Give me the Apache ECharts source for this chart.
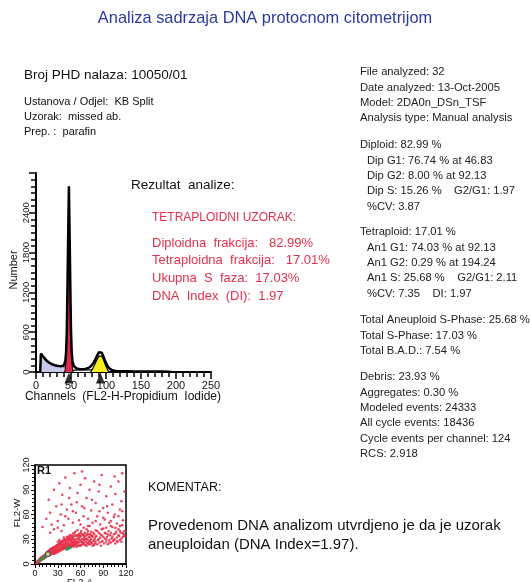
<!DOCTYPE html>
<html>
<head>
<meta charset="utf-8">
<script src="https://cdn.jsdelivr.net/npm/echarts@6/dist/echarts.min.js"></script>
<style>
html,body{margin:0;padding:0;background:#fff;}
#c{width:531px;height:582px;}
</style>
</head>
<body>
<div id="c"></div>
<script>
// ---- DNA histogram (channels vs number) ----
const totalCh = [6,7,8,10,12,15,18,21,24,27,30,33,36,38,40,42,43,44,45,46,47,48,49,50,51,52,54,56,58,60,63,66,70,74,78,82,85,88,90,92,94,96,99,102,105,108,112,116,120,130,140,150,160,170,180,190,194];
const totalN  = [0,280,265,235,205,172,148,128,113,102,95,90,88,90,100,170,300,620,1320,2080,2800,2080,1320,620,300,170,90,62,52,46,42,42,46,56,82,135,195,262,298,312,292,240,160,92,52,32,20,15,12,10,8,8,7,6,6,5,0];
const debrisCh = [6,7,8,10,12,15,18,21,24,27,30,33,36,38,40,42,44,46];
const debrisN  = [0,275,258,228,198,166,142,122,107,96,89,84,80,78,76,72,66,0];
const g1Ch = [41,42,43,44,45,46,47,48,49,50,51,52,53];
const g1N  = [0,60,190,500,1200,1960,2720,1960,1200,500,190,60,0];
const sCh = [46,48,52,56,60,66,72,78,84,90,95,100];
const sN  = [0,18,24,28,30,32,33,33,32,30,18,0];
const g2Ch = [78,82,85,88,90,92,94,96,99,102,104];
const g2N  = [0,70,140,205,240,255,240,195,110,40,0];
const peakMarks = [47,92];
const histYLabels = [0,600,1200,1800,2400];

// ---- FL2-A vs FL2-W dot plot ----
const dotsRed = [
[2,1],[3,2],[4,2],[4,4],[5,3],[6,4],[6,6],[7,5],[8,6],[8,8],[9,7],[10,6],[10,9],[11,8],[12,10],[12,7],[13,9],[14,11],[14,8],[15,10],[15,13],[16,12],[17,10],[17,14],[18,12],[18,16],[19,13],[20,11],[20,15],[21,14],[21,18],[22,12],[22,16],[23,15],[23,19],[24,13],[24,17],[25,15],[25,20],[26,14],[26,18],[27,16],[27,21],[28,15],[28,19],[29,17],[29,23],[30,16],[30,20],[31,18],[31,24],[32,17],[32,21],[33,19],[33,26],[34,18],[34,22],[35,20],[35,27],[36,19],[36,23],[37,21],[37,28],[38,20],[38,25],[39,22],[39,30],[40,19],[40,24],[41,22],[41,28],[42,20],[42,26],[43,23],[43,31],[44,21],[44,27],[45,24],[45,33],
[46,22],[46,29],[47,25],[47,35],[48,21],[48,28],[49,24],[49,32],[50,22],[50,27],[50,37],[51,25],[51,30],[52,23],[52,34],[53,27],[53,39],[54,22],[54,30],[55,25],[55,35],[56,28],[56,41],[57,23],[57,31],[58,26],[58,36],[59,29],[60,22],[60,33],[61,27],[61,40],[62,24],[62,30],[63,35],[64,26],[64,44],[65,29],[65,33],[66,23],[66,38],[67,27],[68,31],[68,42],[69,25],[70,29],[70,36],[71,24],[72,32],[72,46],[73,27],[74,30],[74,39],[75,25],[76,33],[77,28],[78,36],[78,23],[79,31],[80,27],[80,41],
[81,34],[82,24],[83,29],[84,38],[85,26],[86,32],[87,22],[88,35],[89,28],[90,43],[91,25],[92,31],[93,37],[94,27],[95,33],[96,24],[97,40],[98,29],[99,35],[100,26],[101,31],[102,45],[103,28],[104,36],[105,30],[106,25],[107,39],[108,32],[109,27],[110,42],[111,34],[112,29],[113,38],[114,31],[115,47],[116,33],[117,36],[118,40],
[20,17],[21,12],[22,19],[23,13],[24,20],[25,12],[26,21],[27,13],[28,22],[29,14],[30,23],[31,15],[32,25],[33,16],[34,27],[35,17],[36,26],[37,18],[38,29],[39,19],[40,27],[41,20],[42,30],[43,21],[44,29],[45,22],[46,31],[47,20],[48,33],[49,22],[50,31],[51,21],[52,28],[53,24],[54,34],[55,21],[56,26],[57,33],[58,22],[59,35],[60,28],[61,23],[62,36],[63,25],[64,31],[65,24],[66,34],[67,30],[68,22],[69,37],[70,26],[71,33],[72,24],[73,36],[74,26],[75,34],[76,22],[77,38],[78,29],[79,25],[80,33],
[30,27],[32,29],[34,25],[36,28],[38,32],[40,30],[42,33],[44,31],[46,35],[48,30],[50,34],[52,37],[54,26],[56,35],[58,31],[60,38],[62,27],[64,36],[66,30],[68,35],[70,40],[72,28],[74,35],
[84,30],[86,36],[88,27],[90,33],[92,38],[94,30],[96,36],[98,26],[100,38],[102,33],[104,29],[106,37],[108,28],[110,35],[112,40],[114,27],[116,38],[118,34],[82,40],[88,42],[94,44],[100,46],[106,44],[112,46],
[3,3],[5,5],[7,7],[9,8],[11,10],[13,11],[15,11],[16,14],[18,15],[19,11],[5,2],[8,4],[11,6],[14,12],[17,15],[20,18],[23,17],[26,16],[29,20],[32,23],[35,24],[38,23],[41,25],[44,24],[47,27],[50,26],
[10,45],[15,55],[18,78],[20,62],[22,48],[25,90],[28,70],[30,52],[32,98],[34,60],[36,84],[38,47],[40,105],[42,66],[44,55],[46,92],[48,72],[50,50],[52,110],[54,62],[56,86],[58,53],[60,96],[62,70],[64,58],[66,104],[68,80],[70,55],[72,90],[74,65],[76,50],[78,100],[80,74],[82,58],[84,88],[86,48],[88,108],[90,68],[92,54],[94,82],[96,62],[98,50],[100,94],[102,72],[104,57],[106,85],[108,49],[110,100],[112,66],[114,76],[116,53],[118,88],[62,112],[55,75],[45,80],[35,72],[75,78],[85,64],[95,70],[105,60],[115,64],[40,58],[50,64],[60,48],[70,46],[80,52],[90,56],[100,52],[110,58],[25,42],[30,44],[20,38],[35,40],[65,68],[85,96],[105,106],[115,110]
];
const dotsGreen = [[6,4],[9,6],[12,8],[14,10],[16,11],[18,13],[42,18],[44,19],[46,20]];
const dotsGate = [[17,12]];

// ---- texts ----
const titleText = 'Analiza sadrzaja DNA protocnom citometrijom';
const headerLines = ['Ustanova / Odjel:  KB Split','Uzorak:  missed ab.','Prep. :  parafin'];
const resultLines = ['Diploidna  frakcija:   82.99%','Tetraploidna  frakcija:   17.01%','Ukupna  S  faza:  17.03%','DNA  Index  (DI):  1.97'];
const rightGroups = [
  [['File analyzed: 32',0],['Date analyzed: 13-Oct-2005',0],['Model: 2DA0n_DSn_TSF',0],['Analysis type: Manual analysis',0]],
  [['Diploid: 82.99 %',0],['Dip G1: 76.74 % at 46.83',1],['Dip G2: 8.00 % at 92.13',1],['Dip S: 15.26 %    G2/G1: 1.97',1],['%CV: 3.87',1]],
  [['Tetraploid: 17.01 %',0],['An1 G1: 74.03 % at 92.13',1],['An1 G2: 0.29 % at 194.24',1],['An1 S: 25.68 %    G2/G1: 2.11',1],['%CV: 7.35    DI: 1.97',1]],
  [['Total Aneuploid S-Phase: 25.68 %',0],['Total S-Phase: 17.03 %',0],['Total B.A.D.: 7.54 %',0]],
  [['Debris: 23.93 %',0],['Aggregates: 0.30 %',0],['Modeled events: 24333',0],['All cycle events: 18436',0],['Cycle events per channel: 124',0],['RCS: 2.918',0]]
];
const commentLines = ['Provedenom DNA analizom utvrdjeno je da je uzorak','aneuploidan (DNA Index=1.97).'];

const FF = "'Liberation Sans', Arial, Helvetica, sans-serif";
const RED = '#e4304c';
const pairs = (xs, ys) => xs.map((x, i) => [x, ys[i]]);

const graphics = [];
function txt(text, x, y, size, color, extra, align) {
  graphics.push(Object.assign({
    type: 'text', x: x, y: y, silent: true,
    style: { text: text, fill: color || '#111', font: size + 'px ' + FF, verticalAlign: 'middle', align: align || 'left' }
  }, extra || {}));
}
txt(titleText, 265, 18, 16.4, '#2b3aa0', null, 'center');
txt('Broj PHD nalaza: 10050/01', 24, 75, 13.5, '#111');
headerLines.forEach((l, i) => txt(l, 24, 102 + i * 15, 11, '#111'));
txt('Rezultat  analize:', 131, 185, 13.5, '#111');
txt('TETRAPLOIDNI UZORAK:', 152, 218, 12, RED);
resultLines.forEach((l, i) => txt(l, 152, 243 + i * 17.7, 13, RED));
const groupTops = [72, 145, 232, 320, 377];
rightGroups.forEach((g, gi) => g.forEach((l, i) => txt(l[0], 360 + l[1] * 7, groupTops[gi] + i * 15.45, 11.2, '#222')));
txt('KOMENTAR:', 148, 488, 12.5, '#111');
commentLines.forEach((l, i) => txt(l, 148, 526 + i * 19, 15, '#111'));
txt('Number', 14, 270, 11, '#111', { rotation: Math.PI / 2 }, 'center');
txt('Channels  (FL2-H-Propidium  Iodide)', 123, 397, 12, '#111', null, 'center');
txt('FL2-W', 17, 513, 9.5, '#111', { rotation: Math.PI / 2 }, 'center');
txt('FL2-A', 80, 582, 9.5, '#111', null, 'center');
graphics.push({ type: 'text', x: 37, y: 471, silent: true,
  style: { text: 'R1', fill: '#111', font: 'bold 11px ' + FF, verticalAlign: 'middle', align: 'left' } });

const chart = echarts.init(document.getElementById('c'), null, { renderer: 'canvas' });

const axisCommon = {
  splitLine: { show: false }, minorSplitLine: { show: false },
  axisLine: { show: true, lineStyle: { color: '#000', width: 2 } },
  axisTick: { show: true, inside: false, length: 7, lineStyle: { color: '#000', width: 1.5 } },
};

chart.setOption({
  animation: false,
  backgroundColor: '#fff',
  graphic: graphics,
  grid: [
    { left: 36, top: 173, width: 175, height: 199, containLabel: false },
    { left: 35, top: 465, width: 91, height: 99, containLabel: false, show: true, borderColor: '#000', borderWidth: 1.5, backgroundColor: 'transparent' }
  ],
  xAxis: [
    Object.assign({}, axisCommon, {
      gridIndex: 0, type: 'value', min: 0, max: 250, interval: 50,
      minorTick: { show: true, splitNumber: 5, length: 5, lineStyle: { color: '#000', width: 1.5 } },
      axisLabel: { color: '#111', fontSize: 11, fontFamily: FF, margin: 8 }
    }),
    Object.assign({}, axisCommon, {
      gridIndex: 1, type: 'value', min: 0, max: 120, interval: 30,
      axisLine: { show: true, lineStyle: { color: '#000', width: 1.5 } },
      axisTick: { show: true, length: 4, lineStyle: { color: '#000', width: 1 } },
      minorTick: { show: true, splitNumber: 6, length: 3, lineStyle: { color: '#000', width: 1 } },
      axisLabel: { color: '#111', fontSize: 9, fontFamily: FF, margin: 5 }
    })
  ],
  yAxis: [
    Object.assign({}, axisCommon, {
      gridIndex: 0, type: 'value', min: 0, max: 3000, interval: 600,
      minorTick: { show: true, splitNumber: 6, length: 5, lineStyle: { color: '#000', width: 1.5 } },
      axisLabel: { color: '#111', fontSize: 9.5, fontFamily: FF, margin: 5, rotate: 90,
        formatter: v => histYLabels.indexOf(v) >= 0 ? String(v) : '' }
    }),
    Object.assign({}, axisCommon, {
      gridIndex: 1, type: 'value', min: 0, max: 120, interval: 30,
      axisLine: { show: true, lineStyle: { color: '#000', width: 1.5 } },
      axisTick: { show: true, length: 4, lineStyle: { color: '#000', width: 1 } },
      minorTick: { show: true, splitNumber: 6, length: 3, lineStyle: { color: '#000', width: 1 } },
      axisLabel: { color: '#111', fontSize: 9, fontFamily: FF, margin: 4, rotate: 90 }
    })
  ],
  series: [
    { type: 'line', xAxisIndex: 0, yAxisIndex: 0, data: pairs(debrisCh, debrisN), showSymbol: false, silent: true,
      lineStyle: { color: '#555', width: 1 }, areaStyle: { color: '#c6c9ea', opacity: 1 }, z: 2 },
    { type: 'line', xAxisIndex: 0, yAxisIndex: 0, data: pairs(sCh, sN), showSymbol: false, silent: true,
      lineStyle: { color: '#000', width: 1.2 }, areaStyle: { color: '#fff', opacity: 1 }, z: 3 },
    { type: 'line', xAxisIndex: 0, yAxisIndex: 0, data: pairs(g1Ch, g1N), showSymbol: false, silent: true,
      lineStyle: { color: '#000', width: 1 }, areaStyle: { color: '#e2294a', opacity: 1 }, z: 4 },
    { type: 'line', xAxisIndex: 0, yAxisIndex: 0, data: pairs(g2Ch, g2N), showSymbol: false, silent: true,
      lineStyle: { color: '#000', width: 1.2 }, areaStyle: { color: '#f6ee1c', opacity: 1 }, z: 4 },
    { type: 'line', xAxisIndex: 0, yAxisIndex: 0, data: pairs(totalCh, totalN), showSymbol: false, silent: true,
      lineStyle: { color: '#000', width: 2.5 }, z: 5 },
    { type: 'scatter', xAxisIndex: 0, yAxisIndex: 0, data: peakMarks.map(c => [c, -90]), symbol: 'triangle',
      symbolSize: [9, 11], itemStyle: { color: '#000' }, clip: false, silent: true, z: 6 },
    { type: 'scatter', xAxisIndex: 1, yAxisIndex: 1, data: dotsRed, symbolSize: 2.5, silent: true,
      itemStyle: { color: '#e8304a', opacity: 0.9 }, z: 3 },
    { type: 'scatter', xAxisIndex: 1, yAxisIndex: 1, data: dotsGreen, symbolSize: 3.5, silent: true,
      itemStyle: { color: '#1f9a55' }, z: 4 },
    { type: 'scatter', xAxisIndex: 1, yAxisIndex: 1, data: dotsGate, symbolSize: 5, silent: true,
      itemStyle: { color: '#f0e83a', borderColor: '#2a3aa0', borderWidth: 1.2 }, z: 5 }
  ]
});
</script>
</body>
</html>
